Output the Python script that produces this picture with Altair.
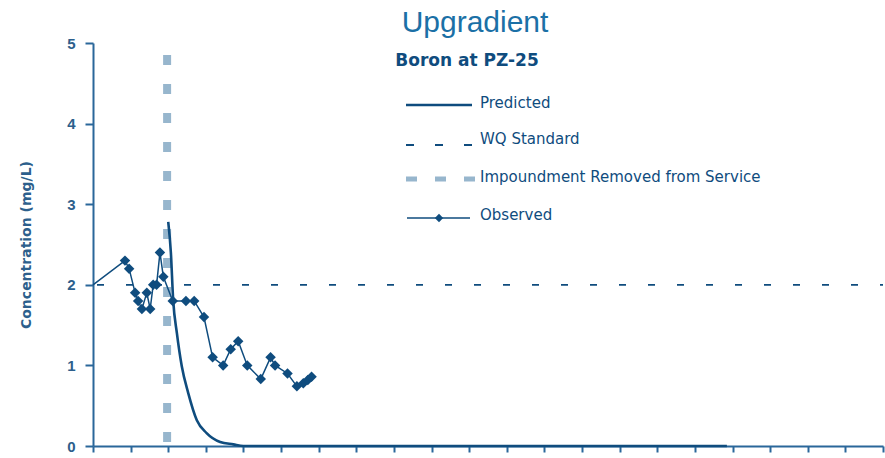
import altair as alt
import pandas as pd

# Observed boron at PZ-25 (mg/L), x in years from start of record
obs_year = [0.85, 0.96, 1.12, 1.20, 1.30, 1.43, 1.52, 1.60, 1.69, 1.78, 1.87,
            2.12, 2.47, 2.69, 2.95, 3.18, 3.46, 3.66, 3.86, 4.10, 4.46, 4.72,
            4.84, 5.17, 5.42, 5.59, 5.71, 5.81]
obs_conc = [2.3, 2.2, 1.9, 1.8, 1.7, 1.9, 1.7, 2.0, 2.0, 2.4, 2.1,
            1.8, 1.8, 1.8, 1.6, 1.1, 1.0, 1.2, 1.3, 1.0, 0.83, 1.1,
            1.0, 0.9, 0.74, 0.78, 0.82, 0.86]
# the observed trace is joined back to the start of the axis
lead_year = [0.0]
lead_conc = [2.0]

# Predicted concentration after the impoundment is removed
pred_year = [2.00, 2.07, 2.13, 2.23, 2.36, 2.53, 2.76, 3.02, 3.38, 3.73, 4.00, 16.85]
pred_conc = [2.78, 2.40, 1.82, 1.40, 0.99, 0.66, 0.32, 0.16, 0.05, 0.02, 0.0, 0.0]

wq_standard = [2.0]
removal_year = [1.97]
removal_top = [4.85]

x_ticks = list(range(0, 22))
y_ticks = [0, 1, 2, 3, 4, 5]

legend_labels = ["Predicted", "WQ Standard", "Impoundment Removed from Service", "Observed"]

DARK = "#0f4c7e"
AXIS = "#2a679a"
LIGHT = "#97b6cd"
TITLE_BLUE = "#1b70a6"

W, H = 790, 403

xs = alt.Scale(domain=[0, 21], nice=False, zero=False)
ys = alt.Scale(domain=[0, 5], nice=False)

x_axis = alt.Axis(values=x_ticks, labels=False, title=None, tickSize=6, tickWidth=2,
                  domainWidth=2, domainColor=AXIS, tickColor=AXIS, grid=False)
y_axis = alt.Axis(values=y_ticks, format="d", title="Concentration (mg/L)", tickSize=8, tickWidth=2,
                  domainWidth=2, domainColor=AXIS, tickColor=AXIS, grid=False,
                  labelFont="Liberation Sans", labelFontSize=15, labelFontWeight="bold",
                  labelColor="#2d5f8c", labelPadding=10,
                  titleFont="DejaVu Sans", titleFontSize=14, titleFontWeight="bold",
                  titleColor="#2d5f8c", titleX=-67, titleY=H / 2, titleAngle=270,
                  titleAlign="center", titleBaseline="middle")


def xe(field):
    return alt.X(field, scale=xs, axis=x_axis)


def ye(field):
    return alt.Y(field, scale=ys, axis=y_axis)


obs_df = pd.DataFrame({"year": obs_year, "conc": obs_conc})
obs_line_df = pd.DataFrame({"year": lead_year + obs_year, "conc": lead_conc + obs_conc})
pred_df = pd.DataFrame({"year": pred_year, "conc": pred_conc})
wq_df = pd.DataFrame({"conc": wq_standard})
rem_df = pd.DataFrame({"year": removal_year, "top": removal_top, "bottom": [0.0]})

wq_layer = alt.Chart(wq_df).mark_rule(color=DARK, strokeWidth=1.8, strokeDash=[7, 22],
                                      strokeDashOffset=4).encode(
    y=ye("conc:Q")
)

rem_layer = alt.Chart(rem_df).mark_rule(color=LIGHT, strokeWidth=8, strokeDash=[10, 19]).encode(
    x=xe("year:Q"),
    y=ye("top:Q"),
    y2="bottom:Q",
)

pred_layer = alt.Chart(pred_df).mark_line(color=DARK, strokeWidth=2.6, interpolate="monotone").encode(
    x=xe("year:Q"),
    y=ye("conc:Q"),
)

obs_line = alt.Chart(obs_line_df).mark_line(color=DARK, strokeWidth=1.5).encode(
    x=xe("year:Q"),
    y=ye("conc:Q"),
)

obs_pts = alt.Chart(obs_df).mark_point(shape="diamond", filled=True, color=DARK, size=110, opacity=1).encode(
    x=xe("year:Q"),
    y=ye("conc:Q"),
)

# titles
title_layer = alt.Chart(pd.DataFrame({"t": ["Upgradient"]})).mark_text(
    font="Liberation Sans", fontSize=30, color=TITLE_BLUE, align="center", baseline="alphabetic"
).encode(x=alt.value(382), y=alt.value(-11), text="t:N")

sub_layer = alt.Chart(pd.DataFrame({"t": ["Boron at PZ-25"]})).mark_text(
    font="DejaVu Sans", fontSize=17, fontWeight="bold", color=DARK, align="center", baseline="alphabetic"
).encode(x=alt.value(374), y=alt.value(23), text="t:N")

# legend (plot-relative pixels)
LX0, LX1, LTX = 313, 379, 387
row_line_y = [62, 102, 136, 175]
row_text_y = [60, 96, 134, 172]

leg = []
leg.append(alt.Chart(pd.DataFrame({"a": [0]})).mark_rule(color=DARK, strokeWidth=2.6).encode(
    x=alt.value(LX0), x2=alt.value(LX1), y=alt.value(row_line_y[0])))
leg.append(alt.Chart(pd.DataFrame({"a": [0]})).mark_rule(color=DARK, strokeWidth=1.8, strokeDash=[8, 21]).encode(
    x=alt.value(LX0), x2=alt.value(LX1 + 2), y=alt.value(row_line_y[1])))
leg.append(alt.Chart(pd.DataFrame({"a": [0]})).mark_rule(color=LIGHT, strokeWidth=5, strokeDash=[11, 18]).encode(
    x=alt.value(LX0), x2=alt.value(LX1 + 5), y=alt.value(row_line_y[2])))
leg.append(alt.Chart(pd.DataFrame({"a": [0]})).mark_rule(color=DARK, strokeWidth=1.5).encode(
    x=alt.value(LX0 + 1), x2=alt.value(LX1 - 2), y=alt.value(row_line_y[3])))
leg.append(alt.Chart(pd.DataFrame({"a": [0]})).mark_point(shape="diamond", filled=True, color=DARK,
                                                          size=70, opacity=1).encode(
    x=alt.value((LX0 + LX1) / 2), y=alt.value(row_line_y[3])))
leg.append(alt.Chart(pd.DataFrame({"label": legend_labels, "ty": row_text_y})).mark_text(
    font="DejaVu Sans", fontSize=15, color=DARK, align="left", baseline="middle"
).encode(x=alt.value(LTX), y=alt.Y("ty:Q", scale=None), text="label:N"))

chart = alt.layer(
    wq_layer, rem_layer, pred_layer, obs_line, obs_pts, title_layer, sub_layer, *leg
).properties(
    width=W, height=H,
    autosize="none",
    padding={"left": 93, "top": 43, "right": 2, "bottom": 12},
).configure_view(stroke=None).configure_axis(grid=False)

chart.save("out.html", embed_options={"renderer": "svg", "actions": False})
